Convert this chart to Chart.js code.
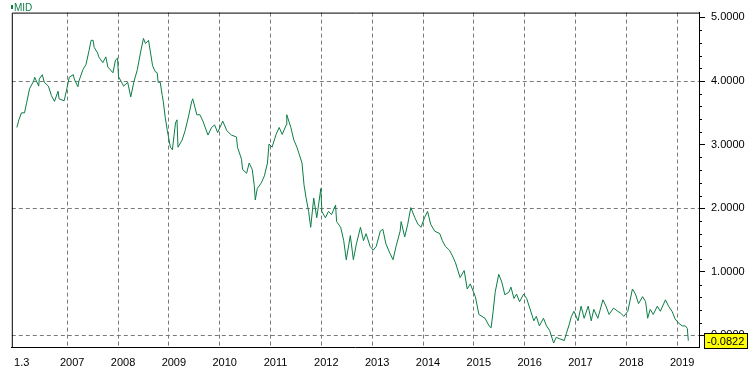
<!DOCTYPE html>
<html>
<head>
<meta charset="utf-8">
<script src="https://cdn.jsdelivr.net/npm/chart.js@4"></script>
<style>
  html, body { margin: 0; padding: 0; background: #fff; }
</style>
</head>
<body>
<canvas id="chart" width="751" height="369"></canvas>
<script>
/* MID series, daily close (decimal years). */
const SERIES = 'MID';
const dates = [
  2006.01, 2006.05, 2006.10, 2006.16, 2006.20, 2006.26, 2006.34, 2006.36, 2006.44, 2006.45,
  2006.51, 2006.55, 2006.63, 2006.69, 2006.75, 2006.82, 2006.84, 2006.94, 2006.98, 2007.04,
  2007.12, 2007.14, 2007.21, 2007.23, 2007.31, 2007.37, 2007.43, 2007.47, 2007.51, 2007.53,
  2007.60, 2007.62, 2007.70, 2007.76, 2007.80, 2007.90, 2007.95, 2007.99, 2008.01, 2008.11,
  2008.19, 2008.25, 2008.31, 2008.38, 2008.44, 2008.50, 2008.54, 2008.60, 2008.68, 2008.73,
  2008.77, 2008.79, 2008.83, 2008.87, 2008.89, 2008.93, 2008.97, 2009.03, 2009.07, 2009.13,
  2009.16, 2009.18, 2009.26, 2009.32, 2009.38, 2009.45, 2009.47, 2009.55, 2009.61, 2009.67,
  2009.77, 2009.84, 2009.90, 2009.96, 2010.06, 2010.14, 2010.23, 2010.33, 2010.35, 2010.43,
  2010.45, 2010.53, 2010.58, 2010.64, 2010.68, 2010.70, 2010.74, 2010.82, 2010.88, 2010.94,
  2010.97, 2011.03, 2011.11, 2011.17, 2011.23, 2011.31, 2011.32, 2011.40, 2011.46, 2011.52,
  2011.56, 2011.62, 2011.66, 2011.70, 2011.75, 2011.79, 2011.85, 2011.91, 2011.99, 2012.01,
  2012.08, 2012.14, 2012.20, 2012.28, 2012.30, 2012.38, 2012.44, 2012.49, 2012.57, 2012.63,
  2012.69, 2012.77, 2012.83, 2012.88, 2012.96, 2013.02, 2013.08, 2013.16, 2013.21, 2013.27,
  2013.35, 2013.41, 2013.47, 2013.55, 2013.57, 2013.64, 2013.70, 2013.76, 2013.84, 2013.90,
  2013.96, 2014.03, 2014.09, 2014.15, 2014.23, 2014.33, 2014.38, 2014.44, 2014.52, 2014.58,
  2014.64, 2014.73, 2014.81, 2014.87, 2014.93, 2015.03, 2015.10, 2015.16, 2015.22, 2015.30,
  2015.34, 2015.38, 2015.42, 2015.49, 2015.55, 2015.61, 2015.69, 2015.73, 2015.79, 2015.84,
  2015.90, 2015.98, 2016.04, 2016.10, 2016.18, 2016.23, 2016.29, 2016.37, 2016.43, 2016.49,
  2016.57, 2016.62, 2016.68, 2016.78, 2016.82, 2016.88, 2016.92, 2016.97, 2017.05, 2017.11,
  2017.17, 2017.25, 2017.31, 2017.36, 2017.44, 2017.54, 2017.60, 2017.66, 2017.75, 2017.83,
  2017.89, 2017.95, 2018.03, 2018.12, 2018.18, 2018.24, 2018.32, 2018.38, 2018.42, 2018.47,
  2018.53, 2018.61, 2018.67, 2018.77, 2018.83, 2018.90, 2018.96, 2019.02, 2019.10, 2019.16,
  2019.20, 2019.22
];
const mid = [
  3.27, 3.39, 3.50, 3.50, 3.65, 3.88, 4.00, 4.06, 3.92, 4.03,
  4.10, 3.98, 3.92, 3.77, 3.68, 3.84, 3.72, 3.69, 3.83, 4.06,
  4.10, 4.03, 3.91, 4.00, 4.18, 4.26, 4.48, 4.64, 4.64, 4.53,
  4.44, 4.38, 4.29, 4.38, 4.22, 4.13, 4.33, 4.36, 4.07, 3.92,
  3.98, 3.75, 3.98, 4.18, 4.44, 4.67, 4.59, 4.64, 4.24, 4.15,
  4.13, 3.98, 3.98, 3.77, 3.68, 3.42, 3.22, 2.96, 2.92, 3.34,
  3.39, 2.96, 3.07, 3.22, 3.42, 3.68, 3.72, 3.47, 3.47, 3.37,
  3.15, 3.27, 3.31, 3.19, 3.37, 3.22, 3.15, 3.12, 2.96, 2.77,
  2.61, 2.55, 2.71, 2.61, 2.36, 2.13, 2.31, 2.40, 2.51, 2.71,
  3.01, 2.96, 3.16, 3.27, 3.16, 3.31, 3.47, 3.27, 3.07, 2.96,
  2.86, 2.71, 2.36, 2.16, 1.95, 1.70, 2.16, 1.85, 2.31, 1.95,
  1.85, 1.95, 1.90, 2.05, 1.79, 1.70, 1.49, 1.19, 1.57, 1.19,
  1.44, 1.70, 1.49, 1.60, 1.40, 1.34, 1.40, 1.64, 1.67, 1.44,
  1.29, 1.19, 1.40, 1.64, 1.79, 1.55, 1.75, 2.01, 1.85, 1.75,
  1.70, 1.85, 1.95, 1.75, 1.64, 1.60, 1.49, 1.40, 1.34, 1.25,
  1.14, 0.91, 1.02, 0.73, 0.81, 0.61, 0.33, 0.30, 0.27, 0.15,
  0.12, 0.38, 0.68, 0.96, 0.84, 0.64, 0.68, 0.76, 0.58, 0.65,
  0.53, 0.65, 0.58, 0.43, 0.23, 0.30, 0.15, 0.27, 0.15, 0.08,
  -0.12, -0.03, -0.05, -0.08, 0.03, 0.18, 0.30, 0.38, 0.23, 0.46,
  0.27, 0.46, 0.23, 0.41, 0.27, 0.56, 0.46, 0.33, 0.43, 0.38,
  0.35, 0.30, 0.38, 0.73, 0.65, 0.50, 0.61, 0.53, 0.27, 0.41,
  0.33, 0.46, 0.38, 0.56, 0.46, 0.38, 0.26, 0.20, 0.15, 0.15,
  0.11, -0.0822
];
const xTicks = [2006.006, 2007, 2008, 2009, 2010, 2011, 2012, 2013, 2014, 2015, 2016, 2017, 2018, 2019];
const xTickLabels = ['1.3', '2007', '2008', '2009', '2010', '2011', '2012', '2013', '2014', '2015', '2016', '2017', '2018', '2019'];
const yMajor = [0, 1, 2, 3, 4, 5];
const yGridAt = [0, 2, 4];

const GREEN = '#0b7d45';
const GRID = '#7a7a7a';
const FONT = '"Liberation Sans", Arial, sans-serif';

Chart.defaults.font.family = FONT;
Chart.defaults.font.size = 11;
Chart.defaults.color = '#000';

const lastValue = mid[mid.length - 1];

const overlay = {
  id: 'overlay',
  afterDraw(chart) {
    const { ctx, chartArea: a, scales: { y } } = chart;
    ctx.save();
    ctx.strokeStyle = '#000';
    ctx.lineWidth = 1;
    ctx.beginPath();
    ctx.moveTo(a.left + 0.5, a.bottom);
    ctx.lineTo(a.left + 0.5, a.top + 0.5);
    ctx.lineTo(a.right, a.top + 0.5);
    // short minor ticks on the price axis
    y.ticks.forEach((t) => {
      if (yMajor.includes(t.value)) return;
      const py = Math.round(y.getPixelForValue(t.value)) + 0.5;
      ctx.moveTo(a.right, py);
      ctx.lineTo(a.right + 3, py);
    });
    ctx.stroke();

    // series tag, top-left
    ctx.fillStyle = GREEN;
    ctx.fillRect(11, 5, 2, 4);
    ctx.font = '10px ' + FONT;
    ctx.textBaseline = 'top';
    ctx.textAlign = 'left';
    ctx.fillText(SERIES, 14, 3);

    // last value box
    const py = Math.round(y.getPixelForValue(lastValue));
    ctx.fillStyle = '#ffff00';
    ctx.fillRect(704, py - 8, 44, 16);
    ctx.strokeRect(704.5, py - 7.5, 43, 15);
    ctx.fillStyle = '#000';
    ctx.font = '11px ' + FONT;
    ctx.textBaseline = 'middle';
    ctx.fillText(lastValue.toFixed(4), 707, py + 1);
    ctx.restore();
  }
};

new Chart(document.getElementById('chart'), {
  type: 'line',
  data: {
    datasets: [{
      label: SERIES,
      data: dates.map((d, i) => ({ x: d, y: mid[i] })),
      borderColor: GREEN,
      borderWidth: 1,
      pointRadius: 0,
      tension: 0,
      fill: false,
    }]
  },
  options: {
    responsive: false,
    animation: false,
    devicePixelRatio: 1,
    layout: { padding: { left: 5, top: 1, right: 0, bottom: 0 } },
    plugins: { legend: { display: false }, tooltip: { enabled: false } },
    scales: {
      x: {
        type: 'linear',
        min: 2005.91,
        max: 2019.43,
        afterBuildTicks: (s) => { s.ticks = xTicks.map((v) => ({ value: v })); },
        afterFit: (s) => { s.height = 22; },
        grid: {
          color: (c) => (c.tick && c.tick.value === xTicks[0] ? 'rgba(0,0,0,0)' : GRID),
          drawTicks: false,
        },
        border: { display: true, color: '#000', dash: [4, 3] },
        ticks: {
          autoSkip: false,
          maxRotation: 0,
          padding: 9,
          labelOffset: 5,
          callback: (v, i) => xTickLabels[i],
        },
      },
      y: {
        position: 'right',
        min: -0.182,
        max: 5.076,
        afterFit: (s) => { s.width = 52; },
        grid: {
          color: (c) => (c.tick && yGridAt.includes(c.tick.value) ? GRID : 'rgba(0,0,0,0)'),
          tickColor: (c) => (c.tick && yMajor.includes(c.tick.value) ? '#000' : 'rgba(0,0,0,0)'),
          tickLength: 6,
          tickBorderDash: [],
        },
        border: { display: true, color: '#000', dash: [4, 3] },
        ticks: {
          stepSize: 0.2,
          includeBounds: false,
          autoSkip: false,
          padding: 6,
          callback: (v) => (yMajor.includes(v) ? v.toFixed(4) : ''),
        },
      },
    },
  },
  plugins: [overlay],
});
</script>
</body>
</html>
